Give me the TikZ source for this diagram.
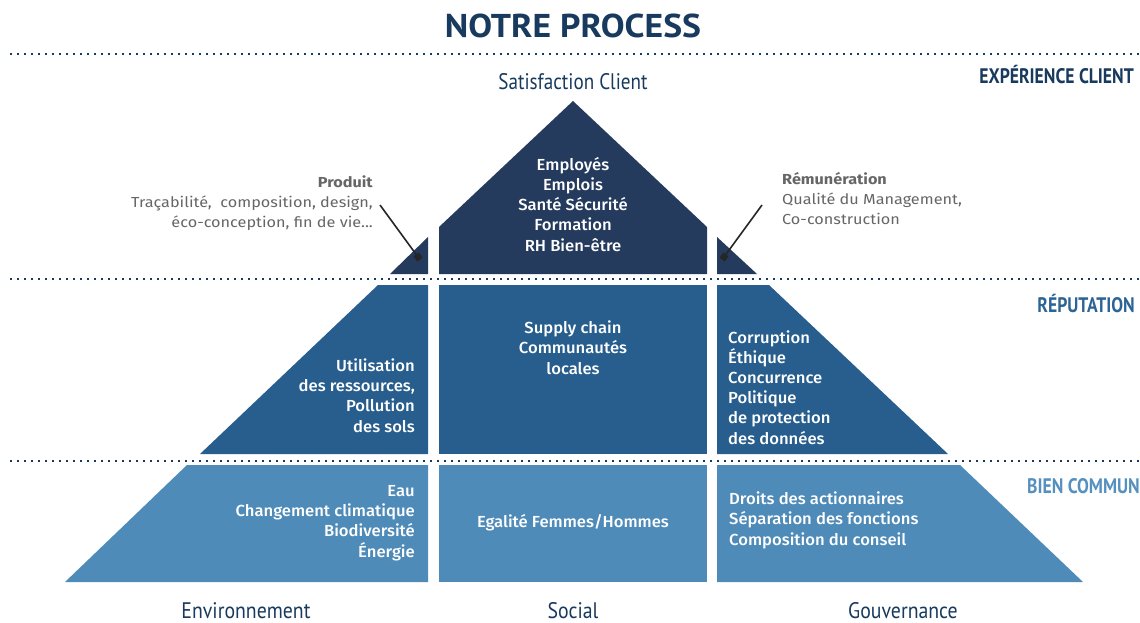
\documentclass[tikz,border=0pt]{standalone}
\usepackage{fontspec}
\setmainfont{Fira Sans}
\newfontfamily\medfont[FakeStretch=1.04]{Fira Sans Medium}
\newfontfamily\greyfont[FakeStretch=1.12]{Fira Sans}
\newfontfamily\condfont[FakeStretch=0.88]{PT Sans}
\newfontfamily\satfont[FakeStretch=0.85]{PT Sans}
\newfontfamily\levelfont[FakeStretch=0.84]{PT Sans}
\newfontfamily\titlefont[FakeStretch=1.08]{PT Sans}
\definecolor{navytxt}{HTML}{183A5E}
\definecolor{topc}{HTML}{243B5E}
\definecolor{midc}{HTML}{275E8D}
\definecolor{botc}{HTML}{4F8BB8}
\definecolor{replab}{HTML}{2D6496}
\definecolor{biencol}{HTML}{5690BF}
\definecolor{greytxt}{HTML}{666666}
\tikzset{
  dotline/.style={navytxt, line width=1.8pt, dash pattern=on 1.8pt off 5.2pt},
  whitetxt/.style={text=white, font=\medfont\fontsize{16}{20.2}\selectfont, inner sep=0pt},
  greynote/.style={text=greytxt, font=\greyfont\fontsize{14.5}{20}\selectfont, inner sep=0pt},
  levellab/.style={font=\levelfont\fontsize{21}{24}\selectfont\bfseries, inner sep=0pt, anchor=base east},
  pillarlab/.style={text=navytxt, font=\condfont\fontsize{22.5}{24}\selectfont, inner sep=0pt, anchor=base},
  conn/.style={draw=black!85, line width=1.6pt},
  marker/.style={fill=black!85, minimum size=6.5pt, inner sep=0pt, draw=none}
}
\begin{document}
\begin{tikzpicture}[x=1pt,y=-1pt]
\useasboundingbox (0,0) rectangle (1140,623);
\fill[white] (0,0) rectangle (1140,623);

% title
\node[text=navytxt, font=\titlefont\fontsize{33}{36}\selectfont\bfseries, inner sep=0pt, anchor=base] (title) at (573,38) {NOTRE PROCESS};

% dotted separators
\draw[dotline] (10,54) -- (1140,54);
\draw[dotline] (10,279) -- (1140,279);
\draw[dotline] (10,461) -- (1140,461);

% level labels
\node[levellab, text=navytxt] (lexp) at (1134,84) {EXPÉRIENCE CLIENT};
\node[levellab, text=replab] (lrep) at (1135,312) {RÉPUTATION};
\node[levellab, text=biencol] (lbien) at (1140,493) {BIEN COMMUN};

% top level shapes
\fill[topc] (439,274) -- (439,227) -- (573,101) -- (707,227) -- (707,274) -- cycle;
\fill[topc] (390,274) -- (428,274) -- (428,237) -- cycle;
\fill[topc] (717,274) -- (757,274) -- (717,237) -- cycle;

% middle level
\fill[midc] (200,454) -- (378,285) -- (428,285) -- (428,454) -- cycle;
\fill[midc] (439,285) rectangle (707,454);
\fill[midc] (717,285) -- (769,285) -- (948,454) -- (717,454) -- cycle;

% bottom level
\fill[botc] (65,582) -- (187,465) -- (428,465) -- (428,582) -- cycle;
\fill[botc] (439,465) rectangle (707,582);
\fill[botc] (717,465) -- (960,465) -- (1083,582) -- (717,582) -- cycle;

% top label
\node[pillarlab, font=\satfont\fontsize{22.5}{24}\selectfont] (satis) at (573,90) {Satisfaction Client};

% white texts (base anchor = baseline of last line)
\node[whitetxt, align=center, anchor=base] (emp) at (573,251) {Employés\\Emplois\\Santé Sécurité\\Formation\\RH Bien-être};
\node[whitetxt, align=center, anchor=base] (supply) at (573,374) {Supply chain\\Communautés\\locales};
\node[whitetxt, align=right, anchor=base east] (util) at (415,432) {Utilisation\\des ressources,\\Pollution\\des sols};
\node[whitetxt, align=left, anchor=base west] (corr) at (728,444) {Corruption\\Éthique\\Concurrence\\Politique\\de protection\\des données};
\node[whitetxt, align=right, anchor=base east] (eau) at (415,557) {Eau\\Changement climatique\\Biodiversité\\Énergie};
\node[whitetxt, align=center, anchor=base] (egal) at (573,527) {Egalité Femmes/Hommes};
\node[whitetxt, align=left, anchor=base west] (droits) at (729,545) {Droits des actionnaires\\Séparation des fonctions\\Composition du conseil};

% grey notes
\node[greynote, align=right, anchor=base east] (produit) at (373,227) {\textbf{Produit}\\Traçabilité,\ \ composition, design,\\éco-conception, fin de vie...};
\node[greynote, align=left, anchor=base west] (remun) at (782,224) {\textbf{Rémunération}\\Qualité du Management,\\Co-construction};

% connectors
\coordinate (pstart) at (380,205);
\coordinate (pend) at (418,257);
\coordinate (rstart) at (762,205);
\coordinate (rend) at (724,257);
\draw[conn] (pstart) -- (pend);
\draw[conn] (rstart) -- (rend);
\node[marker, rotate=-54] (pm) at (pend) {};
\node[marker, rotate=54] (rm) at (rend) {};

% pillar labels
\node[pillarlab] (env) at (246,618) {Environnement};
\node[pillarlab] (soc) at (573,618) {Social};
\node[pillarlab] (gouv) at (903,618) {Gouvernance};
\end{tikzpicture}
\end{document}
